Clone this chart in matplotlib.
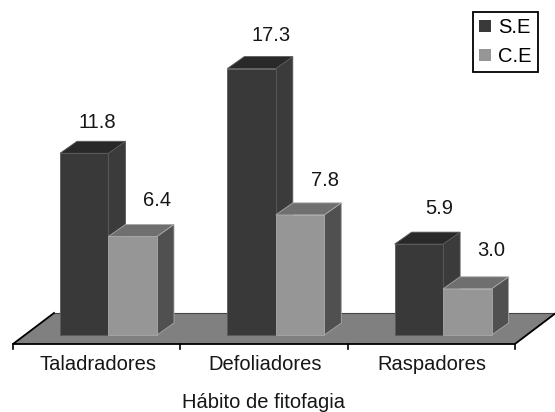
import matplotlib
matplotlib.use('Agg')
import matplotlib.pyplot as plt
from matplotlib.patches import Polygon, Patch

plt.rcParams['font.family'] = ['Liberation Sans', 'DejaVu Sans']

categories = ['Taladradores', 'Defoliadores', 'Raspadores']
se_values = [11.8, 17.3, 5.9]
ce_values = [6.4, 7.8, 3.0]
series_names = ['S.E', 'C.E']
x_title = 'Hábito de fitofagia'

# pixel layout of the picture
W, H = 555, 412
px_per_cat = 167.3
px_per_val = 15.4
x0_px = 13
y0_px = 335
font_size = 14.5
text_color = '#161616'

# the value labels are hand placed in the original, offsets from the bar top in px
se_label_dx = [13, 20, 20]
se_label_dy = [19, 21, 24]
ce_label_dx = [24, 25, 24]
ce_label_dy = [24, 22, 26]

fig = plt.figure(figsize=(W / 100, H / 100), dpi=100)
ax = fig.add_axes([0, 0, 1, 1])
ax.set_xlim(-x0_px / px_per_cat, (W - x0_px) / px_per_cat)
ax.set_ylim((y0_px - H) / px_per_val, y0_px / px_per_val)
ax.axis('off')

# 3d offset and bar geometry, in data units
dx = 17 / px_per_cat
dy = 12 / px_per_val
bar_w = 48.5 / px_per_cat
bar_start = 47 / px_per_cat
floor_front = -9 / px_per_val
floor_back = 22 / px_per_val
floor_dx = 41 / px_per_cat

# floor
n = len(categories)
ax.add_patch(Polygon([(0, floor_front), (n, floor_front),
                      (n + floor_dx, floor_back), (floor_dx, floor_back)],
                     facecolor='#808080', edgecolor='none', zorder=1))
ax.plot([floor_dx, n + floor_dx], [floor_back, floor_back], color='#444444', lw=0.8, zorder=1.5)
ax.plot([floor_dx, 0, n, n + floor_dx],
        [floor_back, floor_front, floor_front, floor_back],
        color='black', lw=1.3, zorder=2)
for i in range(n + 1):
    ax.plot([i, i], [floor_front, floor_front - 5 / px_per_val], color='black', lw=1.2, zorder=2)


def draw_bar(x, v, front, top, side, edge, z):
    ax.add_patch(Polygon([(x + bar_w, 0), (x + bar_w + dx, dy), (x + bar_w + dx, v + dy), (x + bar_w, v)],
                         facecolor=side, edgecolor=edge, lw=0.6, zorder=z))
    ax.add_patch(Polygon([(x, v), (x + bar_w, v), (x + bar_w + dx, v + dy), (x + dx, v + dy)],
                         facecolor=top, edgecolor=edge, lw=0.6, zorder=z))
    ax.add_patch(Polygon([(x, 0), (x + bar_w, 0), (x + bar_w, v), (x, v)],
                         facecolor=front, edgecolor=edge, lw=0.6, zorder=z + 0.1))


for i in range(n):
    x1 = i + bar_start
    x2 = x1 + bar_w
    draw_bar(x1, se_values[i], '#393939', '#292929', '#3b3b3b', '#5a5a5a', 3 + i)
    draw_bar(x2, ce_values[i], '#969696', '#6f6f6f', '#505050', '#a8a8a8', 3.5 + i)
    ax.text(x1 + bar_w / 2 + se_label_dx[i] / px_per_cat, se_values[i] + dy + se_label_dy[i] / px_per_val,
            f'{se_values[i]:.1f}', ha='center', va='center', fontsize=font_size, color=text_color, zorder=10)
    ax.text(x2 + bar_w / 2 + ce_label_dx[i] / px_per_cat, ce_values[i] + dy + ce_label_dy[i] / px_per_val,
            f'{ce_values[i]:.1f}', ha='center', va='center', fontsize=font_size, color=text_color, zorder=10)
    ax.text(i + 0.5 + 1 / px_per_cat, -30 / px_per_val, categories[i], ha='center', va='center',
            fontsize=font_size, color=text_color)

ax.text(n / 2, -67 / px_per_val, x_title, ha='center', va='center',
        fontsize=font_size, color=text_color)

handles = [Patch(facecolor='#393939', label=series_names[0]),
           Patch(facecolor='#969696', label=series_names[1])]
leg = ax.legend(handles=handles, loc='upper left', bbox_to_anchor=(473 / W, 1 - 12 / H),
                bbox_transform=fig.transFigure, fontsize=font_size, frameon=True, fancybox=False,
                framealpha=1, edgecolor='black', borderaxespad=0, borderpad=0.3,
                handlelength=0.6, handleheight=0.6, handletextpad=0.35, labelspacing=0.5)
leg.get_frame().set_linewidth(1.3)
leg.set_zorder(11)

fig.savefig('out.png', dpi=100)
